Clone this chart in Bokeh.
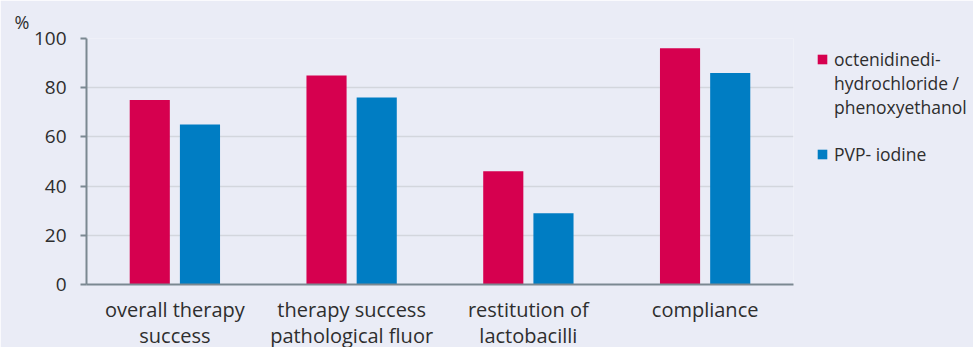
from bokeh.plotting import figure
from bokeh.models import (ColumnDataSource, Range1d, Legend, LegendItem, FixedTicker, Title,
                          LinearAxis)
from bokeh.transform import dodge
from bokeh.embed import file_html
from bokeh.resources import INLINE

categories = ["overall therapy\nsuccess", "therapy success\npathological fluor",
              "restitution of\nlactobacilli", "compliance"]
octenidine = [75, 85, 46, 96]
pvp_iodine = [65, 76, 29, 86]
series1_lines = ["octenidinedi-", "hydrochloride /", "phenoxyethanol"]
series2_name = "PVP- iodine"
y_ticks = [0, 20, 40, 60, 80, 100]

BG = "#eaecf6"
RED = "#d6004f"
BLUE = "#007dc3"
AXIS = "#7b8891"
TEXT = "#2e2e2e"
FONT = "Open Sans"

pos = [i + 0.5 for i in range(len(categories))]
src = ColumnDataSource(dict(x=pos, a=octenidine, b=pvp_iodine))

p = figure(frame_width=707, frame_height=246, x_range=Range1d(0, len(categories)),
           y_range=Range1d(0, 100),
           output_backend="svg", toolbar_location=None,
           background_fill_color=BG, border_fill_color=BG, outline_line_color=None,
           min_border_left=86, min_border_right=180, min_border_top=38, min_border_bottom=0)

r1 = p.vbar(x=dodge("x", -0.142), top="a", width=0.227, source=src,
            fill_color=RED, line_color=None)
r2 = p.vbar(x=dodge("x", 0.142), top="b", width=0.227, source=src,
            fill_color=BLUE, line_color=None)
blank = p.vbar(x=[], top=[], width=0.1, fill_color=None, line_color=None)

p.xgrid.grid_line_color = None
p.ygrid.grid_line_color = "#d3d6dd"
p.ygrid.grid_line_width = 1.5
p.yaxis.ticker = FixedTicker(ticks=y_ticks)

p.yaxis.axis_line_color = AXIS
p.yaxis.axis_line_width = 2
p.yaxis.major_tick_line_color = AXIS
p.yaxis.major_tick_line_width = 2
p.yaxis.major_tick_out = 6
p.yaxis.major_tick_in = 0
p.yaxis.minor_tick_line_color = None
p.yaxis.major_label_text_font = FONT
p.yaxis.major_label_text_font_size = "19px"
p.yaxis.major_label_text_color = TEXT
p.yaxis.major_label_standoff = 14

first_lines = {x: c.split("\n")[0] for x, c in zip(pos, categories)}
second_lines = {x: (c.split("\n") + [""])[1] for x, c in zip(pos, categories)}

ax1 = p.xaxis[0]
ax1.ticker = FixedTicker(ticks=pos)
ax1.major_label_overrides = first_lines
ax1.axis_line_color = AXIS
ax1.axis_line_width = 2
ax1.major_tick_line_color = None
ax1.minor_tick_line_color = None
ax1.major_label_text_font = FONT
ax1.major_label_text_font_size = "20px"
ax1.major_label_text_color = TEXT
ax1.major_label_standoff = 5

ax2 = LinearAxis(ticker=FixedTicker(ticks=pos), major_label_overrides=second_lines,
                 axis_line_color=None, major_tick_line_color=None, minor_tick_line_color=None,
                 major_label_text_font=FONT, major_label_text_font_size="20px",
                 major_label_text_color=TEXT, major_label_standoff=-10)
p.add_layout(ax2, "below")

items = [LegendItem(label=series1_lines[0], renderers=[r1]),
         LegendItem(label=series1_lines[1], renderers=[blank]),
         LegendItem(label=series1_lines[2], renderers=[blank]),
         LegendItem(label=" ", renderers=[blank]),
         LegendItem(label=series2_name, renderers=[r2])]
legend = Legend(items=items, location=(23, 118), orientation="vertical",
                background_fill_alpha=0, border_line_color=None,
                label_text_font=FONT, label_text_font_size="17.5px", label_text_color=TEXT,
                glyph_width=12, glyph_height=12, label_height=23, spacing=0, label_standoff=6,
                margin=0, padding=0)
p.add_layout(legend, "right")

p.title = Title(text="%", align="left", offset=-72, text_font=FONT, text_font_size="18px",
                text_font_style="normal", text_color=TEXT, standoff=10)

open("out.html", "w").write(file_html(p, INLINE))
